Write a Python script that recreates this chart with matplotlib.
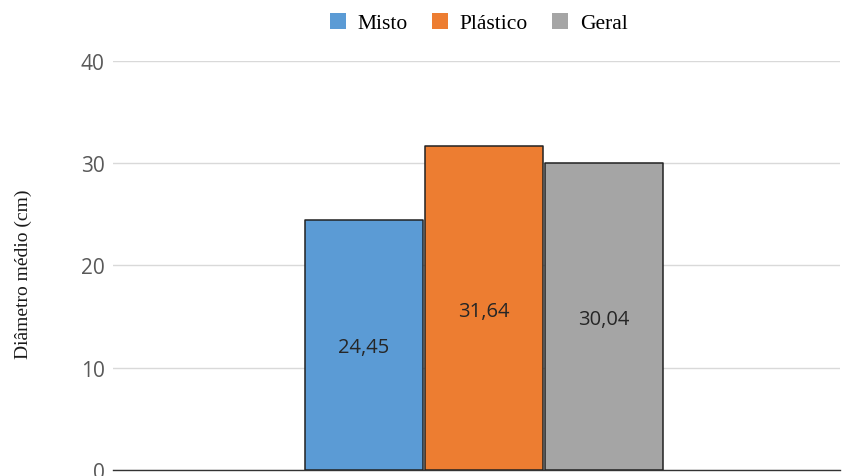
import matplotlib
matplotlib.use("Agg")
import matplotlib.pyplot as plt

plt.rcParams['font.family'] = ['Liberation Serif', 'DejaVu Serif']

series = ['Misto', 'Plástico', 'Geral']
values = [24.45, 31.64, 30.04]
value_labels = ['24,45', '31,64', '30,04']
colors = ['#5B9BD5', '#ED7D31', '#A5A5A5']
yticks = [0, 10, 20, 30, 40]

num_font = ['Open Sans', 'DejaVu Sans']

fig = plt.figure(figsize=(8.43, 4.77), dpi=100)
ax = fig.add_axes([0.134, 0.0126, 0.8624, 0.8574])

positions = [-1, 0, 1]
for pos, name, val, lab, col in zip(positions, series, values, value_labels, colors):
    ax.bar(pos, val, width=0.985, color=col, edgecolor='#222222', linewidth=1.1,
           joinstyle='round', label=name, zorder=3)
    ax.text(pos, val / 2, lab, ha='center', va='center_baseline', fontsize=14.5,
            family=num_font, color='#262626', zorder=4)

ax.set_xlim(-3.09, 2.97)
ax.set_ylim(0, 40)
ax.set_yticks(yticks)
ax.set_yticklabels([str(t) for t in yticks], fontsize=15, family=num_font,
                   color='#595959')
ax.set_xticks([])
ax.tick_params(axis='y', length=0, pad=6)
ax.grid(axis='y', color='#d9d9d9', linewidth=1.0, zorder=0)
for s in ['top', 'right', 'left']:
    ax.spines[s].set_visible(False)
ax.spines['bottom'].set_color('#333333')
ax.spines['bottom'].set_linewidth(1.0)

ax.set_ylabel('Diâmetro médio (cm)', fontsize=14, color='#1a1a1a')
ax.yaxis.set_label_coords(-0.112, 0.48)

ax.legend(loc='lower center', bbox_to_anchor=(0.503, 1.02), ncol=3, frameon=False,
          prop={'size': 15.5}, handlelength=0.75, handleheight=0.75,
          handletextpad=0.55, columnspacing=1.1)
for h in ax.get_legend().legend_handles:
    h.set_edgecolor('none')

fig.savefig('out.png', dpi=100)
